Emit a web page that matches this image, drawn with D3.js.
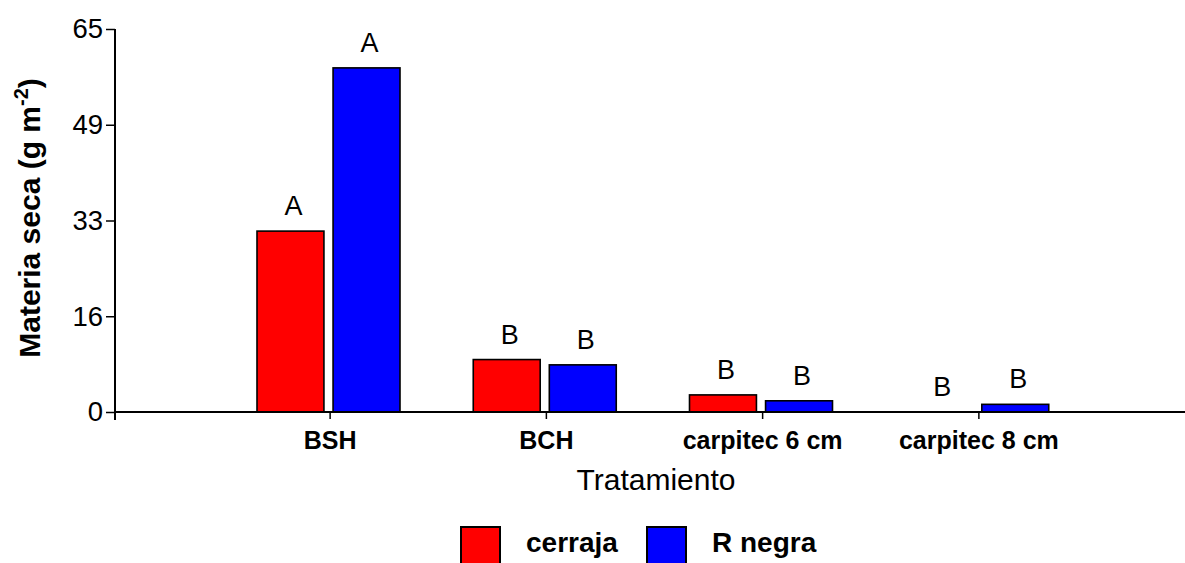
<!DOCTYPE html>
<html>
<head>
<meta charset="utf-8">
<script src="https://cdn.jsdelivr.net/npm/d3@7"></script>
<style>
  html, body { margin: 0; padding: 0; background: #fff; }
  svg { display: block; font-family: Arial, "Liberation Sans", sans-serif; }
</style>
</head>
<body>
<svg id="chart" width="1185" height="563"></svg>
<script>
// ---- data ----
const categories = ["BSH", "BCH", "carpitec 6 cm", "carpitec 8 cm"];
const seriesNames = ["cerraja", "R negra"];
const cerraja = [30.7, 8.9, 2.9, 0];
const rNegra = [58.4, 8.0, 1.9, 1.3];
const lettersCerraja = ["A", "B", "B", "B"];
const lettersRNegra = ["A", "B", "B", "B"];
const yTickValues = [0, 16.25, 32.5, 48.75, 65];
const yTickLabels = ["0", "16", "33", "49", "65"];
const colors = ["#ff0000", "#0000ff"];

const values = [cerraja, rNegra];
const letters = [lettersCerraja, lettersRNegra];

const svg = d3.select("#chart");

const axisX0 = 115, axisX1 = 1185;
const y = d3.scaleLinear().domain([0, 65]).range([412, 29]);
const x0 = d3.scaleBand().domain(categories).range([222, 1087]).padding(0);
const x1 = d3.scaleBand().domain(seriesNames).range([35, 178]).paddingInner(0.12);

// bars
const rows = [];
categories.forEach((c, i) => {
  seriesNames.forEach((s, j) => {
    rows.push({ cat: c, series: s, value: values[j][i], letter: letters[j][i], color: colors[j] });
  });
});

svg.append("g").selectAll("rect").data(rows.filter(d => d.value > 0)).join("rect")
  .attr("x", d => x0(d.cat) + x1(d.series))
  .attr("y", d => y(d.value))
  .attr("width", x1.bandwidth())
  .attr("height", d => y(0) - y(d.value))
  .attr("fill", d => d.color)
  .attr("stroke", "#000")
  .attr("stroke-width", 1.6);

// significance letters
svg.append("g").selectAll("text").data(rows).join("text")
  .attr("x", d => x0(d.cat) + x1(d.series) + x1.bandwidth() / 2 + 3)
  .attr("y", d => y(d.value) - 16)
  .attr("text-anchor", "middle")
  .attr("font-size", 27)
  .attr("fill", "#000")
  .text(d => d.letter);

// y axis
const yAxis = d3.axisLeft(y).tickValues(yTickValues)
  .tickFormat((d, i) => yTickLabels[i]).tickSize(9).tickPadding(3).tickSizeOuter(0);
const gy = svg.append("g").attr("transform", `translate(${axisX0},0)`).call(yAxis);
gy.select(".domain").remove();
gy.selectAll(".tick line").attr("stroke", "#000").attr("stroke-width", 1.5);
gy.selectAll(".tick text").attr("font-size", 27.5).attr("font-family", "Arial, 'Liberation Sans', sans-serif").attr("fill", "#000");
svg.append("line").attr("x1", axisX0).attr("x2", axisX0).attr("y1", y(65)).attr("y2", y(0) + 8)
  .attr("stroke", "#000").attr("stroke-width", 2);

// x axis
const xAxis = d3.axisBottom(x0).tickSize(7).tickPadding(12).tickSizeOuter(0);
const gx = svg.append("g").attr("transform", `translate(0,${y(0)})`).call(xAxis);
gx.select(".domain").remove();
gx.selectAll(".tick line").attr("stroke", "#000").attr("stroke-width", 1.5);
gx.selectAll(".tick text").attr("font-size", 25).attr("font-weight", "bold")
  .attr("font-family", "Arial, 'Liberation Sans', sans-serif").attr("fill", "#000");
svg.append("line").attr("x1", axisX0).attr("x2", axisX1).attr("y1", y(0)).attr("y2", y(0))
  .attr("stroke", "#000").attr("stroke-width", 2);

// axis titles
svg.append("text").attr("x", 656).attr("y", 490).attr("text-anchor", "middle")
  .attr("font-size", 30).attr("fill", "#000").text("Tratamiento");

const yt = svg.append("text").attr("transform", "translate(40,218) rotate(-90)")
  .attr("text-anchor", "middle").attr("font-size", 30).attr("font-weight", "bold").attr("fill", "#000");
yt.append("tspan").text("Materia seca (g m");
yt.append("tspan").attr("font-size", 20).attr("dy", -12).text("-2");
yt.append("tspan").attr("dy", 12).text(")");

// legend
const legX = [461, 647];
const lg = svg.append("g");
seriesNames.forEach((s, j) => {
  lg.append("rect").attr("x", legX[j]).attr("y", 527).attr("width", 39).attr("height", 40)
    .attr("fill", colors[j]).attr("stroke", "#000").attr("stroke-width", 2);
  lg.append("text").attr("x", legX[j] + 65).attr("y", 552)
    .attr("font-size", 28).attr("font-weight", "bold").attr("fill", "#000").text(s);
});
</script>
</body>
</html>
